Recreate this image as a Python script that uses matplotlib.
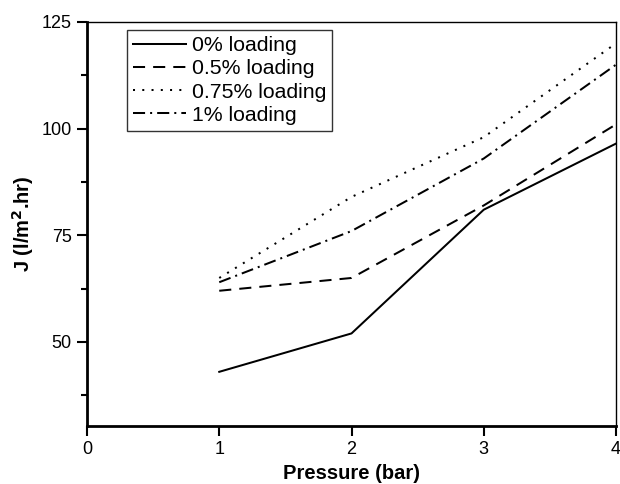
import matplotlib
matplotlib.use("Agg")
import matplotlib.pyplot as plt
from matplotlib.ticker import MultipleLocator

plt.rcParams['font.family'] = ['Liberation Sans', 'DejaVu Sans']

pressure = [1, 2, 3, 4]
flux_0 = [43, 52, 81, 96.5]
flux_05 = [62, 65, 82, 101]
flux_075 = [65, 84, 98, 120]
flux_1 = [64, 76, 93, 115]

labels = ["0% loading", "0.5% loading", "0.75% loading", "1% loading"]
styles = ["-", (0, (6, 4)), (0, (1, 3.6)), (0, (6, 2.5, 1, 2.5))]

fig = plt.figure(figsize=(6.2, 4.84), dpi=100)
ax = fig.add_axes([87/620, 1 - 426/484, (616-87)/620, (426-22)/484])

for y, lab, ls in zip([flux_0, flux_05, flux_075, flux_1], labels, styles):
    ax.plot(pressure, y, color='black', linestyle=ls, linewidth=1.45, label=lab)

ax.set_xlim(0, 4)
ax.set_ylim(30.3, 125)
ax.set_xticks([0, 1, 2, 3, 4])
ax.yaxis.set_major_locator(MultipleLocator(25))
ax.yaxis.set_minor_locator(MultipleLocator(12.5))
ax.tick_params(axis='both', which='major', direction='out', length=7, width=1.5,
               labelsize=13, pad=4)
ax.tick_params(axis='y', which='minor', direction='out', length=4.5, width=1.5)

ax.spines['left'].set_linewidth(2)
ax.spines['bottom'].set_linewidth(2)
ax.spines['top'].set_linewidth(1)
ax.spines['right'].set_linewidth(1)

ax.set_xlabel("Pressure (bar)", fontsize=14.5, fontweight='bold', labelpad=4)
ax.set_ylabel("J (l/m$^\\mathbf{2}$.hr)", fontsize=14.5, fontweight='bold', labelpad=4)

leg = ax.legend(loc='upper left', bbox_to_anchor=(0.076, 0.98), fontsize=15.3,
                frameon=True, fancybox=False, edgecolor='black', handlelength=2.5,
                handletextpad=0.25, borderpad=0.28, labelspacing=0.2, borderaxespad=0)
leg.get_frame().set_linewidth(1)

fig.savefig("out.png", dpi=100)
